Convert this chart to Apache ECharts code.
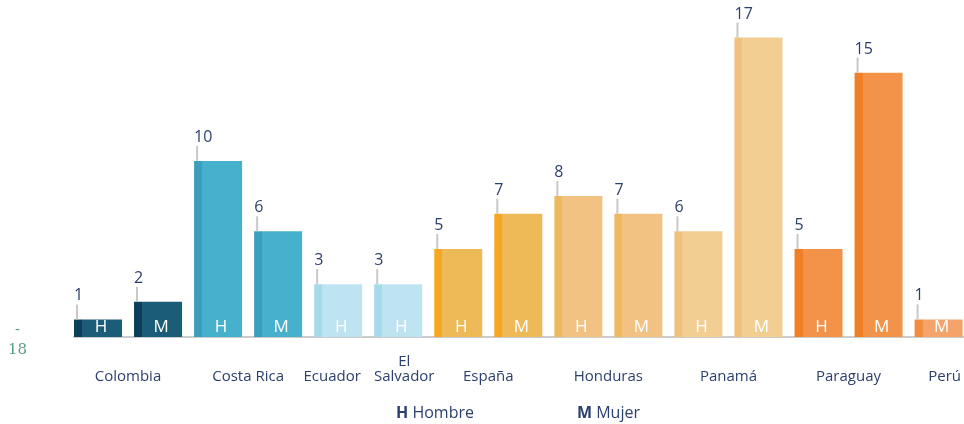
<!DOCTYPE html>
<html>
<head>
<meta charset="utf-8">
<script src="https://cdn.jsdelivr.net/npm/echarts@6/dist/echarts.min.js"></script>
<style>
  html, body { margin: 0; padding: 0; background: #fff; }
  #chart { width: 964px; height: 424px; }
</style>
</head>
<body>
<div id="chart"></div>
<script>
// datos por barra (una barra por país y sexo)
var sexo = ['H', 'M', 'H', 'M', 'H', 'H', 'H', 'M', 'H', 'M', 'H', 'M', 'H', 'M', 'M'];
var paises = ['Colombia', '', 'Costa Rica', '', 'Ecuador', 'El\nSalvador', 'España', '', 'Honduras', '', 'Panamá', '', 'Paraguay', '', 'Perú'];
var valores = [1, 2, 10, 6, 3, 3, 5, 7, 8, 7, 6, 17, 5, 15, 1];
var colorBarra = ['#1b5c78', '#1b5c78', '#47b1cd', '#47b1cd', '#bfe4f1', '#bfe4f1', '#eeba58', '#eeba58',
  '#f2c282', '#f2c282', '#f3ce92', '#f3ce92', '#f39249', '#f39249', '#f4a36a'];
var colorBorde = ['#0b3f5a', '#0b3f5a', '#3a9fbd', '#3a9fbd', '#a5daeb', '#a5daeb', '#f4a71f', '#f4a71f',
  '#eeb85e', '#eeb85e', '#efc27c', '#efc27c', '#f08025', '#f08025', '#f38c3d'];

var categorias = valores.map(function (v, i) { return 'c' + i; });
var azul = '#2b3f6e';
var fuente = 'Open Sans';

// ajuste horizontal de algunas etiquetas (estilo)
var ajusteEtiqueta = { 'Ecuador': 'izq', 'El\nSalvador': 'der', 'Perú': 'der' };

// relleno con franja oscura a la izquierda
function relleno(i) {
  var f = 8 / 48;
  return new echarts.graphic.LinearGradient(0, 0, 1, 0, [
    { offset: 0, color: colorBorde[i] },
    { offset: f, color: colorBorde[i] },
    { offset: f, color: colorBarra[i] },
    { offset: 1, color: colorBarra[i] }
  ]);
}

function serieSexo(s) {
  return valores.map(function (v, i) {
    if (sexo[i] !== s) return '-';
    return { value: v, itemStyle: { color: relleno(i) } };
  });
}

var labelLetra = {
  show: true,
  position: 'insideBottom',
  distance: 1,
  offset: [3, 0],
  color: '#ffffff',
  fontFamily: fuente,
  fontSize: 17,
  formatter: function (p) { return sexo[p.dataIndex]; }
};

var estiloEje = { color: azul, fontFamily: fuente, fontSize: 15, lineHeight: 15 };

var myChart = echarts.init(document.getElementById('chart'));
var option = {
  animation: false,
  // grid 0: barras centradas en los puntos; grid 1: solo la línea base
  grid: [
    { left: 98, top: 20, bottom: 87, width: 842 },
    { left: 74, top: 20, bottom: 87, right: 0 }
  ],
  legend: {
    data: ['Hombre', 'Mujer'],
    left: 385,
    top: 400,
    icon: 'none',
    itemWidth: 1,
    itemGap: 97,
    selectedMode: false,
    textStyle: {
      color: azul,
      fontFamily: fuente,
      fontSize: 16,
      rich: { b: { fontWeight: 'bold', fontSize: 16, color: azul, fontFamily: fuente } }
    },
    formatter: function (name) {
      return name === 'Hombre' ? '{b|H} Hombre' : '{b|M} Mujer';
    }
  },
  graphic: [{
    type: 'text',
    left: 8,
    top: 320,
    style: {
      text: '-\n18',
      fill: '#5a9e8c',
      font: '15px "DejaVu Serif"',
      textAlign: 'center',
      lineHeight: 20
    }
  }],
  xAxis: [
    {
      type: 'category',
      gridIndex: 0,
      boundaryGap: false,
      data: categorias,
      axisLine: { show: false },
      axisTick: { show: false },
      axisLabel: Object.assign({
        interval: 0,
        margin: 47,
        verticalAlign: 'bottom',
        formatter: function (v, i) {
          var p = paises[i];
          if (!p) return '';
          if (paises[i + 1] === '') return '{par|' + p + '}';
          if (ajusteEtiqueta[p]) {
            return p.split('\n').map(function (t) { return '{' + ajusteEtiqueta[p] + '|' + t + '}'; }).join('\n');
          }
          return p;
        },
        rich: {
          par: Object.assign({ padding: [0, 0, 0, 60] }, estiloEje),
          izq: Object.assign({ padding: [0, 12, 0, 0] }, estiloEje),
          der: Object.assign({ padding: [0, 0, 0, 12] }, estiloEje)
        }
      }, estiloEje)
    },
    {
      type: 'value',
      gridIndex: 1,
      axisLine: { show: true, lineStyle: { color: '#cccccc', width: 2 } },
      axisTick: { show: false },
      axisLabel: { show: false },
      splitLine: { show: false }
    }
  ],
  yAxis: [
    { type: 'value', gridIndex: 0, min: 0, max: 18, show: false },
    { type: 'value', gridIndex: 1, min: 0, max: 18, show: false }
  ],
  series: [
    {
      name: 'Hombre',
      type: 'bar',
      clip: false,
      barWidth: 48,
      barGap: '-100%',
      data: serieSexo('H'),
      label: labelLetra
    },
    {
      name: 'Mujer',
      type: 'bar',
      clip: false,
      barWidth: 48,
      barGap: '-100%',
      data: serieSexo('M'),
      label: labelLetra
    },
    {
      name: 'valores',
      type: 'bar',
      clip: false,
      barWidth: 48,
      barGap: '-100%',
      silent: true,
      data: valores,
      itemStyle: { color: 'rgba(0,0,0,0)' },
      label: {
        show: true,
        position: [2, 0],
        align: 'left',
        verticalAlign: 'bottom',
        formatter: function (p) { return '{n|' + p.value + '}\n{l| }'; },
        rich: {
          n: { color: azul, fontFamily: fuente, fontSize: 16, lineHeight: 17, padding: [0, 0, 0, -2] },
          l: { width: 2, height: 15, lineHeight: 15, backgroundColor: '#c8c8c8' }
        }
      }
    }
  ]
};
myChart.setOption(option);
</script>
</body>
</html>
